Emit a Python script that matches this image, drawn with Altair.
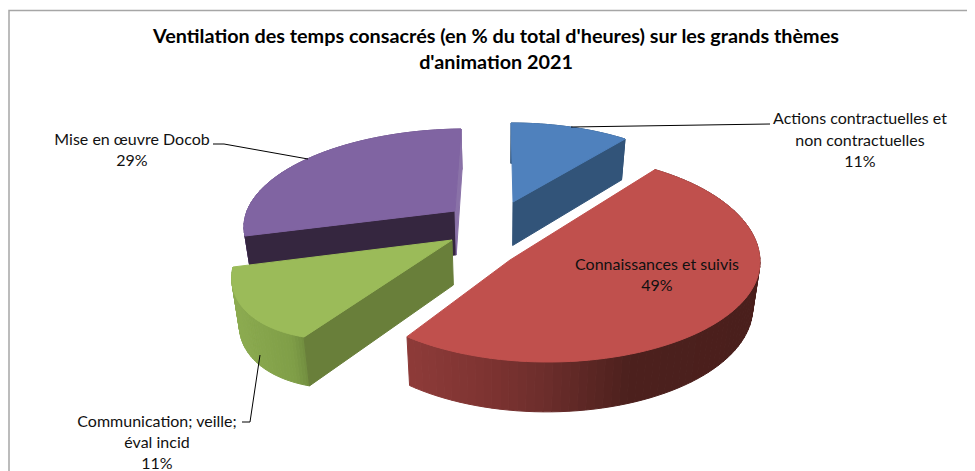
import numpy as np
import altair as alt

# ---- data
slice_names = ["Actions", "Connaissances", "Communication", "Mise en oeuvre"]
shares = [11, 49, 11, 29]
top_colors = ["#4f81bd", "#c0504d", "#9bbb59", "#8064a2"]

# ---- layout of the exploded 3D pie: apex, arc start, arc middle, arc end in page pixels
anchors = [
    [(513, 202), (511, 123), (570, 127), (625, 139)],
    [(510, 260)],
    [(452, 240), (304, 337), (248, 313), (233, 267)],
    [(455, 211), (245, 236), (305, 160), (461, 129)],
]
# rim of the large slice: centre, half width, far and near half height, rim-angle range
red_rim = dict(cx=548, cy=262, rx=212, far=107, near=100, start=30.3, end=221.7)
wall_stops = [
    [(500, "#325479"), (630, "#325479")],
    [(405, "#8e3b39"), (490, "#7d3331"), (548, "#6b2d2b"), (630, "#4c201d"), (760, "#4a1f1c")],
    [(233, "#8cab50"), (290, "#7f9e47"), (310, "#6c853c")],
    [(240, "#6a5286"), (460, "#6a5286")],
]
# (slice index, end of arc: 0 start / 1 end, colour)
radial_faces = [(3, 0, "#35263f"), (3, 1, "#8a72a8"), (0, 1, "#325479"), (2, 0, "#697f3a")]
paint_order = [3, 0, 1, 2]

titles = [
    ("Ventilation des temps consacrés (en % du total d'heures) sur les grands thèmes", 496, 43),
    ("d'animation 2021", 496, 69),
]
labels = [
    ("Mise en œuvre Docob", 132, 145), ("29%", 132, 166),
    ("Actions contractuelles et", 860, 124), ("non contractuelles", 860, 146), ("11%", 860, 167),
    ("Connaissances et suivis", 657, 270), ("49%", 657, 291),
    ("Communication; veille;", 157, 427), ("éval incid", 157, 448), ("11%", 157, 469),
]
leaders = [
    [(213, 144), (224, 144), (308, 159)],
    [(571, 127), (770, 124)],
    [(260, 355), (250, 422), (242, 422)],
]
frame = [[(9, 471), (9, 10.5), (975, 10.5)]]

OX, OY = 8, 8  # page margin


def homography(src, dst):
    A, b = [], []
    for (u, v), (x, y) in zip(src, dst):
        A.append([u, v, 1, 0, 0, 0, -u * x, -v * x]); b.append(x)
        A.append([0, 0, 0, u, v, 1, -u * y, -v * y]); b.append(y)
    h = np.linalg.solve(np.array(A, float), np.array(b, float))
    return np.append(h, 1).reshape(3, 3)


def apply(H, u, v):
    p = H @ np.array([u, v, 1.0])
    return (p[0] / p[2], p[1] / p[2])


def floor_of(p):
    x, y = p
    return (500 + (x - 500) * 0.972, y + 35.4 + 0.04 * y)


def mix(stops, x):
    xs = [s[0] for s in stops]
    rgb = [[int(s[1][i:i + 2], 16) for i in (1, 3, 5)] for s in stops]
    return "#%02x%02x%02x" % tuple(int(round(np.interp(x, xs, [c[k] for c in rgb]))) for k in range(3))


def poly(points, fill):
    ring = [[float(x - OX), float(y - OY)] for x, y in points]
    ring.append(ring[0])
    return {"type": "Feature", "geometry": {"type": "Polygon", "coordinates": [ring]},
            "properties": {"fill": fill}}


def line(points):
    return {"type": "Feature",
            "geometry": {"type": "LineString",
                         "coordinates": [[float(x - OX), float(y - OY)] for x, y in points]},
            "properties": {}}


cum = np.concatenate([[0], np.cumsum(shares)]) / sum(shares) * 2 * np.pi


def rim(i, n=61):
    t1, t2 = cum[i], cum[i + 1]
    ts = np.linspace(t1, t2, n)
    if i == 1:
        g = red_rim
        out = []
        for t in ts:
            phi = np.radians(g["start"] + (t - t1) / (t2 - t1) * (g["end"] - g["start"]))
            ry = g["far"] if np.cos(phi) > 0 else g["near"]
            out.append((g["cx"] + g["rx"] * np.sin(phi), g["cy"] - ry * np.cos(phi)))
        return out
    src_t = [t1, (t1 + t2) / 2, t2]
    src = [(0, 0)] + [(np.sin(t), np.cos(t)) for t in src_t]
    H = homography(src, anchors[i])
    return [apply(H, np.sin(t), np.cos(t)) for t in ts]


features = []
for i in paint_order:
    arc = rim(i, 81 if i == 1 else 41)
    apex = anchors[i][0]
    for a, b in zip(arc[:-1], arc[1:]):
        features.append(poly([a, b, floor_of(b), floor_of(a)], mix(wall_stops[i], (a[0] + b[0]) / 2)))
    for s, e, c in radial_faces:
        if s == i:
            corner = arc[0] if e == 0 else arc[-1]
            features.append(poly([apex, corner, floor_of(corner), floor_of(apex)], c))
    features.append(poly([apex] + arc, top_colors[i]))

proj = dict(type="identity", scale=1, translate=[0, 0])

shapes = alt.Chart(alt.Data(values=features)).mark_geoshape(strokeWidth=1).encode(
    fill=alt.Color("properties.fill:N", scale=None),
    stroke=alt.Color("properties.fill:N", scale=None),
).project(**proj)

frame_layer = alt.Chart(alt.Data(values=[line(f) for f in frame])).mark_geoshape(
    filled=False, stroke="#a6a6a6", strokeWidth=1.5).project(**proj)
leader_layer = alt.Chart(alt.Data(values=[line(l) for l in leaders])).mark_geoshape(
    filled=False, stroke="#000000", strokeWidth=1).project(**proj)


def text_rows(rows):
    return [{"t": t, "x": x - OX, "y": y - OY} for t, x, y in rows]


title_layer = alt.Chart(alt.Data(values=text_rows(titles))).mark_text(
    font="Lato", fontSize=19.8, fontWeight="bold", color="#000000", align="center", baseline="alphabetic"
).encode(x=alt.X("x:Q", scale=None), y=alt.Y("y:Q", scale=None), text="t:N")

label_layer = alt.Chart(alt.Data(values=text_rows(labels))).mark_text(
    font="Lato", fontSize=16, color="#111111", align="center", baseline="alphabetic"
).encode(x=alt.X("x:Q", scale=None), y=alt.Y("y:Q", scale=None), text="t:N")

chart = alt.layer(frame_layer, shapes, leader_layer, title_layer, label_layer).properties(
    width=959, height=463, padding=0
).configure_view(stroke=None).configure_axis(disable=True)

chart.save("out.html", embed_options={"renderer": "svg", "actions": False})
